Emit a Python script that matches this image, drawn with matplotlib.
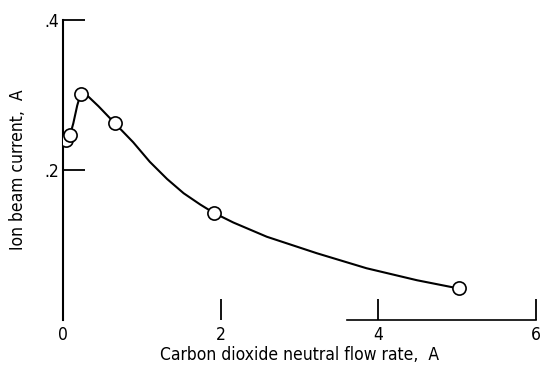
import matplotlib
matplotlib.use("Agg")
import matplotlib.pyplot as plt
from matplotlib import font_manager

# narrow face if one is around, otherwise plain DejaVu
narrow = [f.name for f in font_manager.fontManager.ttflist
          if "condensed" in str(f.stretch).lower() or "Narrow" in f.name]
plt.rcParams["font.family"] = (narrow[:1] + ["DejaVu Sans"]) if narrow else ["DejaVu Sans"]
if narrow:
    plt.rcParams["font.stretch"] = "condensed"
font_size = 12.5 if narrow else 11.5

# measured points
flow = [0.04, 0.09, 0.225, 0.66, 1.91, 5.02]
current = [0.240, 0.247, 0.302, 0.262, 0.143, 0.042]

# faired curve
curve_x = [0.04, 0.09, 0.13, 0.18, 0.225, 0.30, 0.45, 0.66, 0.89, 1.10,
           1.32, 1.53, 1.74, 1.91, 2.16, 2.585, 3.22, 3.85, 4.49, 5.02]
curve_y = [0.240, 0.247, 0.262, 0.286, 0.302, 0.300, 0.285, 0.262, 0.237,
           0.211, 0.188, 0.169, 0.154, 0.143, 0.130, 0.111, 0.089, 0.069,
           0.053, 0.042]

fig = plt.figure(figsize=(5.41, 3.65), dpi=100)
ax = fig.add_axes([0.1165, 0.1233, 0.8743, 0.8219])

ax.plot(curve_x, curve_y, color="black", lw=1.5, zorder=2,
        solid_joinstyle="round")
ax.plot(flow, current, "o", ms=9.5, mfc="white", mec="black", mew=1.2, zorder=3)

ax.set_xlim(0, 6)
ax.set_ylim(0, 0.4)
ax.spines["top"].set_visible(False)
ax.spines["right"].set_visible(False)
ax.spines["left"].set_linewidth(1.5)
ax.spines["bottom"].set_linewidth(1.2)
ax.spines["bottom"].set_bounds(3.6, 6)

ax.set_xticks([0, 2, 4, 6])
ax.set_xticklabels(["0", "2", "4", "6"])
ax.set_yticks([0.2, 0.4])
ax.set_yticklabels([".2", ".4"])
ax.tick_params(axis="x", direction="in", length=15, width=1.3,
               labelsize=font_size, pad=4)
ax.tick_params(axis="y", direction="in", length=16, width=1.3,
               labelsize=font_size, pad=3)
ax.xaxis.get_major_ticks()[0].tick1line.set_visible(False)

ax.set_xlabel("Carbon dioxide neutral flow rate,  A", fontsize=font_size, labelpad=2)
ax.set_ylabel("Ion beam current,  A", fontsize=font_size, labelpad=12)

fig.savefig("out.png", dpi=100)
